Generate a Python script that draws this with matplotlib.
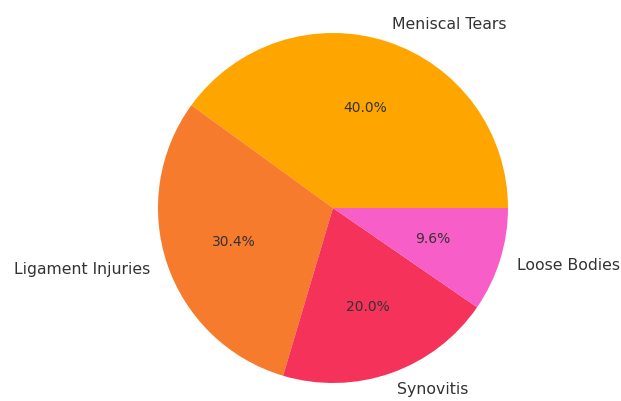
import matplotlib
matplotlib.use("Agg")
import matplotlib.pyplot as plt

categories = ["Meniscal Tears", "Ligament Injuries", "Synovitis", "Loose Bodies"]
values = [40.0, 30.4, 20.0, 9.6]
colors = ["#FFA500", "#F77B2C", "#F5325A", "#F75EC8"]

fig = plt.figure(figsize=(6.21, 4.01), dpi=100)
ax = fig.add_axes([0.2544, 0.0449, 0.5636, 0.8728])
wedges, texts, autotexts = ax.pie(
    values, labels=categories, colors=colors, autopct="%1.1f%%",
    startangle=0, counterclock=True, radius=1.25,
    textprops={"fontsize": 11.3, "color": "#333333"})
for t in autotexts:
    t.set_fontsize(10)
ax.set_xlim(-1.25, 1.25)
ax.set_ylim(-1.25, 1.25)
ax.set_aspect("equal")
fig.savefig("out.png", dpi=100)
